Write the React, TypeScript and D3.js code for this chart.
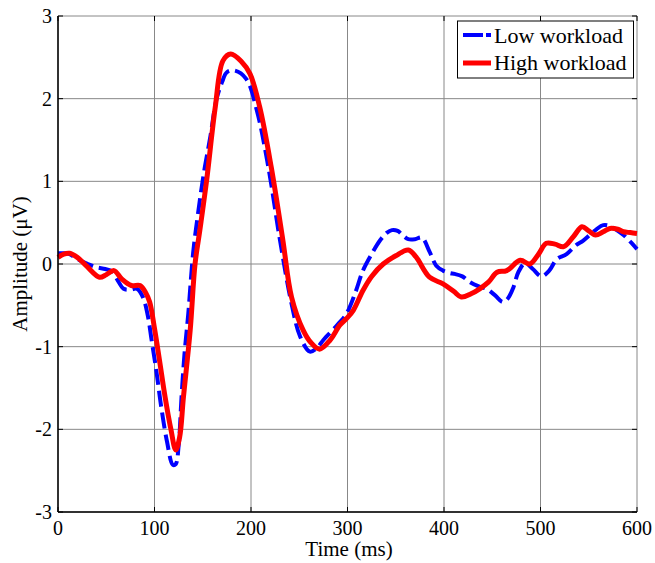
import React from "react";
import * as d3 from "d3";

const lowTime = [0,6,12,20,31,40,49,56,62,68,75,82,88,93,97,102,107,113,119,122,125,128,131,135,140,145,151,158,164,170,175,183,195,206,218,230,242,251,261,268,275,290,299,308,316,325,334,341,346,352,358,363,370,377,385,392,399,406,411,419,427,436,444,453,461,466,472,477,484,492,501,509,517,527,537,544,551,558,565,572,579,586,593,600];
const lowAmp = [0.13,0.13,0.12,0.06,0.0,-0.04,-0.06,-0.09,-0.20,-0.30,-0.31,-0.30,-0.40,-0.62,-0.92,-1.30,-1.73,-2.15,-2.43,-2.42,-2.2,-1.61,-1.1,-0.60,0.13,0.60,1.09,1.55,1.98,2.20,2.32,2.34,2.24,1.86,1.17,0.29,-0.48,-0.88,-1.06,-1.02,-0.92,-0.73,-0.6,-0.35,-0.08,0.12,0.29,0.38,0.41,0.40,0.34,0.30,0.30,0.32,0.15,-0.02,-0.08,-0.11,-0.12,-0.15,-0.22,-0.27,-0.30,-0.38,-0.46,-0.42,-0.28,-0.10,0.01,-0.06,-0.15,-0.08,0.06,0.12,0.23,0.28,0.35,0.42,0.47,0.46,0.41,0.35,0.27,0.18];

const highTime = [0,6,12,20,30,43,50,58,66,76,85,91,95,100,105,111,117,122,126,130,137,142,147,154,163,171,179,190,199,209,221,233,242,254,262,271,282,292,299,306,316,325,337,350,363,371,385,399,410,418,428,437,446,455,465,479,489,498,506,515,524,534,543,550,557,565,572,580,586,593,600];
const highAmp = [0.08,0.12,0.13,0.08,-0.03,-0.16,-0.13,-0.08,-0.18,-0.26,-0.26,-0.35,-0.46,-0.78,-1.15,-1.61,-2.0,-2.25,-2.1,-1.61,-0.80,0.0,0.41,1.01,1.90,2.46,2.54,2.45,2.30,1.90,1.17,0.29,-0.40,-0.80,-0.95,-1.03,-0.92,-0.74,-0.66,-0.56,-0.32,-0.15,0.0,0.10,0.17,0.085,-0.16,-0.24,-0.33,-0.40,-0.36,-0.30,-0.22,-0.10,-0.08,0.045,0.0,0.12,0.25,0.24,0.21,0.33,0.45,0.40,0.35,0.39,0.43,0.42,0.39,0.38,0.37];

const xTicks = [0,100,200,300,400,500,600];
const yTicks = [-3,-2,-1,0,1,2,3];
const seriesNames = ["Low workload","High workload"];

const W = 655, H = 563;
const L = 58, R = 637, T = 16, B = 512;
const FONT = "'Liberation Serif','Times New Roman',serif";

export default function App() {
  const x = d3.scaleLinear().domain([0, 600]).range([L, R]);
  const y = d3.scaleLinear().domain([-3, 3]).range([B, T]);
  const line = d3.line<[number, number]>()
    .x(d => x(d[0])).y(d => y(d[1]))
    .curve(d3.curveCatmullRom.alpha(0.5));
  const low = lowTime.map((t, i) => [t, lowAmp[i]] as [number, number]);
  const high = highTime.map((t, i) => [t, highAmp[i]] as [number, number]);
  const grid = "#888";
  return (
    <svg width={W} height={H} style={{ position: "absolute", left: 0, top: 0, background: "#fff" }} fontFamily={FONT}>
      <rect x={0} y={0} width={W} height={H} fill="#fff" />
      {xTicks.map(t => (
        <line key={"gx" + t} x1={x(t)} x2={x(t)} y1={T} y2={B} stroke={grid} strokeWidth={1} />
      ))}
      {yTicks.map(t => (
        <line key={"gy" + t} x1={L} x2={R} y1={y(t)} y2={y(t)} stroke={grid} strokeWidth={1} />
      ))}
      {xTicks.map(t => (
        <g key={"tx" + t}>
          <line x1={x(t)} x2={x(t)} y1={B} y2={B - 5} stroke="#000" />
          <line x1={x(t)} x2={x(t)} y1={T} y2={T + 5} stroke="#000" />
          <text x={x(t)} y={535} fontSize={20} textAnchor="middle">{t}</text>
        </g>
      ))}
      {yTicks.map(t => (
        <g key={"ty" + t}>
          <line x1={L} x2={L + 5} y1={y(t)} y2={y(t)} stroke="#000" />
          <line x1={R} x2={R - 5} y1={y(t)} y2={y(t)} stroke="#000" />
          <text x={52} y={y(t) + 7} fontSize={20} textAnchor="end">{t}</text>
        </g>
      ))}
      <path d={line(low) || ""} fill="none" stroke="#0000ff" strokeWidth={4} strokeDasharray="16,6" />
      <path d={line(high) || ""} fill="none" stroke="#ff0000" strokeWidth={5} strokeLinejoin="round" />
      <line x1={L} x2={L} y1={T} y2={B} stroke="#000" strokeWidth={1.5} />
      <line x1={L} x2={R} y1={B} y2={B} stroke="#000" strokeWidth={1.5} />
      <text x={349} y={556} fontSize={21} textAnchor="middle">Time (ms)</text>
      <text transform={`translate(27,${y(0)}) rotate(-90)`} fontSize={21} textAnchor="middle">Amplitude (μV)</text>
      <g>
        <rect x={457.5} y={21} width={176} height={57} fill="#fff" stroke="#000" strokeWidth={1} />
        <line x1={463} x2={491} y1={35} y2={35} stroke="#0000ff" strokeWidth={4} strokeDasharray="20,3,5,3" />
        <text x={494} y={43} fontSize={22}>{seriesNames[0]}</text>
        <line x1={463} x2={491} y1={63} y2={63} stroke="#ff0000" strokeWidth={5} />
        <text x={494} y={70} fontSize={22}>{seriesNames[1]}</text>
      </g>
    </svg>
  );
}
